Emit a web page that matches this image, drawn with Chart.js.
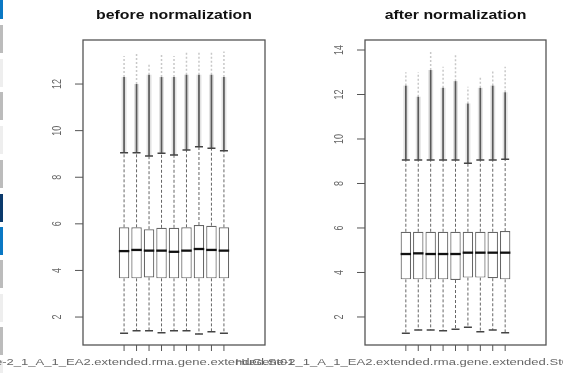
<!DOCTYPE html>
<html>
<head>
<meta charset="utf-8">
<script src="https://cdn.jsdelivr.net/npm/chart.js@4.4.0/dist/chart.umd.min.js"></script>
<style>
    html, body { margin: 0; padding: 0; background: #fff; }
    #wrap { position: relative; width: 563px; height: 373px; overflow: hidden; }
    #wrap canvas { position: absolute; left: 0; top: 0; }
    .strip { position: absolute; left: 0; width: 3px; }
</style>
</head>
<body>
<div id="wrap">
    <div class="strip" style="top:0;height:19px;background:#0a78c4"></div>
    <div class="strip" style="top:25px;height:28px;background:#bcbcbc"></div>
    <div class="strip" style="top:59px;height:28px;background:#eeeeee"></div>
    <div class="strip" style="top:92px;height:28px;background:#bcbcbc"></div>
    <div class="strip" style="top:126px;height:28px;background:#eeeeee"></div>
    <div class="strip" style="top:160px;height:28px;background:#bcbcbc"></div>
    <div class="strip" style="top:194px;height:28px;background:#0b3a6c"></div>
    <div class="strip" style="top:227px;height:28px;background:#0a78c4"></div>
    <div class="strip" style="top:260px;height:28px;background:#bcbcbc"></div>
    <div class="strip" style="top:294px;height:28px;background:#eeeeee"></div>
    <div class="strip" style="top:327px;height:28px;background:#bcbcbc"></div>
    <div class="strip" style="top:360px;height:13px;background:#eeeeee"></div>
    <canvas id="before" width="563" height="373"></canvas>
    <canvas id="after" width="563" height="373"></canvas>
</div>
<script>
// sample names (only the first fits under each panel, like R does)
const samples = [1, 2, 3, 4, 5, 6, 7, 8, 9].map(n =>
    'HuGene-2_1_A_1_EA2.extended.rma.gene.extended.St0' + n);

// before normalization
const q1Before = [3.66, 3.66, 3.70, 3.66, 3.66, 3.66, 3.66, 3.66, 3.66];
const medBefore = [4.83, 4.88, 4.85, 4.85, 4.80, 4.85, 4.92, 4.88, 4.85];
const q3Before = [5.85, 5.85, 5.77, 5.83, 5.83, 5.85, 5.95, 5.92, 5.85];
const loBefore = [1.30, 1.41, 1.41, 1.33, 1.41, 1.41, 1.27, 1.37, 1.30];
const hiBefore = [9.05, 9.05, 8.91, 9.03, 8.95, 9.17, 9.31, 9.24, 9.14];
const denseBefore = [12.3, 12.0, 12.4, 12.3, 12.3, 12.4, 12.4, 12.4, 12.3];
const maxBefore = [13.2, 13.3, 12.9, 13.3, 13.2, 13.4, 13.4, 13.4, 13.4];
const ticksBefore = [2, 4, 6, 8, 10, 12];

// after normalization
const q1After = [3.69, 3.69, 3.69, 3.69, 3.66, 3.77, 3.77, 3.74, 3.69];
const medAfter = [4.83, 4.86, 4.83, 4.83, 4.83, 4.89, 4.89, 4.89, 4.89];
const q3After = [5.83, 5.83, 5.83, 5.83, 5.83, 5.83, 5.83, 5.83, 5.86];
const loAfter = [1.27, 1.41, 1.41, 1.38, 1.45, 1.54, 1.34, 1.41, 1.29];
const hiAfter = [9.06, 9.06, 9.06, 9.06, 9.06, 8.91, 9.06, 9.06, 9.09];
const denseAfter = [12.4, 11.9, 13.1, 12.3, 12.6, 11.6, 12.3, 12.4, 12.1];
const maxAfter = [13.0, 13.0, 14.0, 13.25, 13.8, 12.35, 12.8, 13.05, 13.25];
const ticksAfter = [2, 4, 6, 8, 10, 12, 14];

const FONT = '"Liberation Sans", Arial, sans-serif';
const STRETCH = 1.4;   // the picture is a bit wider than tall

// R-like boxplot drawing: frame, whiskers, medians, outliers, axes
const rBoxPlugin = {
    id: 'rbox',
    beforeDatasetsDraw(chart, args, o) {
        const {ctx, chartArea: a} = chart;
        ctx.save();
        ctx.strokeStyle = '#555';
        ctx.lineWidth = 1.3;
        ctx.strokeRect(a.left, a.top, a.right - a.left, a.bottom - a.top);
        ctx.restore();
    },
    afterDatasetsDraw(chart, args, o) {
        const {ctx, chartArea: a, scales: {x, y}} = chart;
        ctx.save();
        o.q1.forEach((v, i) => {
            const px = x.getPixelForValue(i + 1);
            // faint sparse outliers
            ctx.strokeStyle = '#c8c8c8';
            ctx.lineWidth = 1.5;
            ctx.setLineDash([2, 2]);
            ctx.beginPath();
            ctx.moveTo(px, y.getPixelForValue(o.dense[i]));
            ctx.lineTo(px, y.getPixelForValue(o.max[i]));
            ctx.stroke();
            // dense outliers
            ctx.setLineDash([]);
            ctx.strokeStyle = '#e2e2e2';
            ctx.lineWidth = 5;
            ctx.beginPath();
            ctx.moveTo(px, y.getPixelForValue(o.hi[i]));
            ctx.lineTo(px, y.getPixelForValue(o.dense[i]));
            ctx.stroke();
            ctx.strokeStyle = '#5a5a5a';
            ctx.lineWidth = 1.7;
            ctx.stroke();
            // dashed whiskers
            ctx.strokeStyle = '#666';
            ctx.lineWidth = 1;
            ctx.setLineDash([3, 2]);
            ctx.beginPath();
            ctx.moveTo(px, y.getPixelForValue(o.q3[i]));
            ctx.lineTo(px, y.getPixelForValue(o.hi[i]));
            ctx.moveTo(px, y.getPixelForValue(v));
            ctx.lineTo(px, y.getPixelForValue(o.lo[i]));
            ctx.stroke();
            ctx.setLineDash([]);
            // caps
            ctx.strokeStyle = '#444';
            ctx.lineWidth = 1.5;
            ctx.beginPath();
            [o.hi[i], o.lo[i]].forEach(w => {
                const py = y.getPixelForValue(w);
                ctx.moveTo(px - 4, py);
                ctx.lineTo(px + 4, py);
            });
            ctx.stroke();
            // median
            const meta = chart.getDatasetMeta(0).data[i];
            const half = meta.width / 2;
            const pm = y.getPixelForValue(o.med[i]);
            ctx.strokeStyle = '#111';
            ctx.lineWidth = 2.3;
            ctx.beginPath();
            ctx.moveTo(px - half, pm);
            ctx.lineTo(px + half, pm);
            ctx.stroke();
        });

        // y axis ticks and rotated labels
        ctx.strokeStyle = '#555';
        ctx.lineWidth = 1;
        ctx.fillStyle = '#666';
        ctx.font = '9px ' + FONT;
        ctx.textAlign = 'center';
        ctx.textBaseline = 'middle';
        o.ticks.forEach(t => {
            const py = y.getPixelForValue(t);
            ctx.beginPath();
            ctx.moveTo(a.left - 8, py);
            ctx.lineTo(a.left, py);
            ctx.stroke();
            ctx.save();
            ctx.translate(a.left - 25, py);
            ctx.scale(STRETCH, 1);
            ctx.rotate(-Math.PI / 2);
            ctx.fillText(String(t), 0, 0);
            ctx.restore();
        });

        // x axis ticks, labels skipped when they would overlap
        let lastRight = -Infinity;
        o.labels.forEach((lab, i) => {
            const px = x.getPixelForValue(i + 1);
            ctx.beginPath();
            ctx.moveTo(px, a.bottom);
            ctx.lineTo(px, a.bottom + 6);
            ctx.stroke();
            const w = ctx.measureText(lab).width * 1.45;
            if (px - w / 2 > lastRight + 4) {
                ctx.save();
                ctx.translate(px, a.bottom + 18);
                ctx.scale(1.45, 1);
                ctx.fillText(lab, 0, 0);
                ctx.restore();
                lastRight = px + w / 2;
            }
        });

        // title
        ctx.fillStyle = '#111';
        ctx.font = 'bold 12px ' + FONT;
        ctx.save();
        ctx.translate((a.left + a.right) / 2, 16);
        ctx.scale(1.32, 1);
        ctx.fillText(o.title, 0, 0);
        ctx.restore();
        ctx.restore();
    }
};

const makeBoxChart = (id, title, q1, med, q3, lo, hi, dense, max, ticks, yMin, yMax, padding) => {
    return new Chart(document.getElementById(id), {
        type: 'bar',
        data: {
            datasets: [{
                data: q1.map((v, i) => ({x: i + 1, y: [v, q3[i]]})),
                backgroundColor: '#fff',
                borderColor: '#666',
                borderWidth: 1.2,
                borderSkipped: false,
                categoryPercentage: 1,
                barPercentage: 0.84
            }]
        },
        options: {
            responsive: false,
            animation: false,
            events: [],
            layout: {padding: padding},
            plugins: {
                legend: {display: false},
                tooltip: {enabled: false},
                rbox: {title, q1, med, q3, lo, hi, dense, max, ticks, labels: samples}
            },
            scales: {
                x: {type: 'linear', display: false, min: 0.14, max: 9.86},
                y: {type: 'linear', display: false, min: yMin, max: yMax}
            }
        },
        plugins: [rBoxPlugin]
    });
};

makeBoxChart('before', 'before normalization', q1Before, medBefore, q3Before, loBefore, hiBefore,
    denseBefore, maxBefore, ticksBefore, 0.8, 13.89, {left: 83, right: 298, top: 40, bottom: 28});
makeBoxChart('after', 'after normalization', q1After, medAfter, q3After, loAfter, hiAfter,
    denseAfter, maxAfter, ticksAfter, 0.74, 14.45, {left: 365, right: 17, top: 40, bottom: 28});
</script>
</body>
</html>
